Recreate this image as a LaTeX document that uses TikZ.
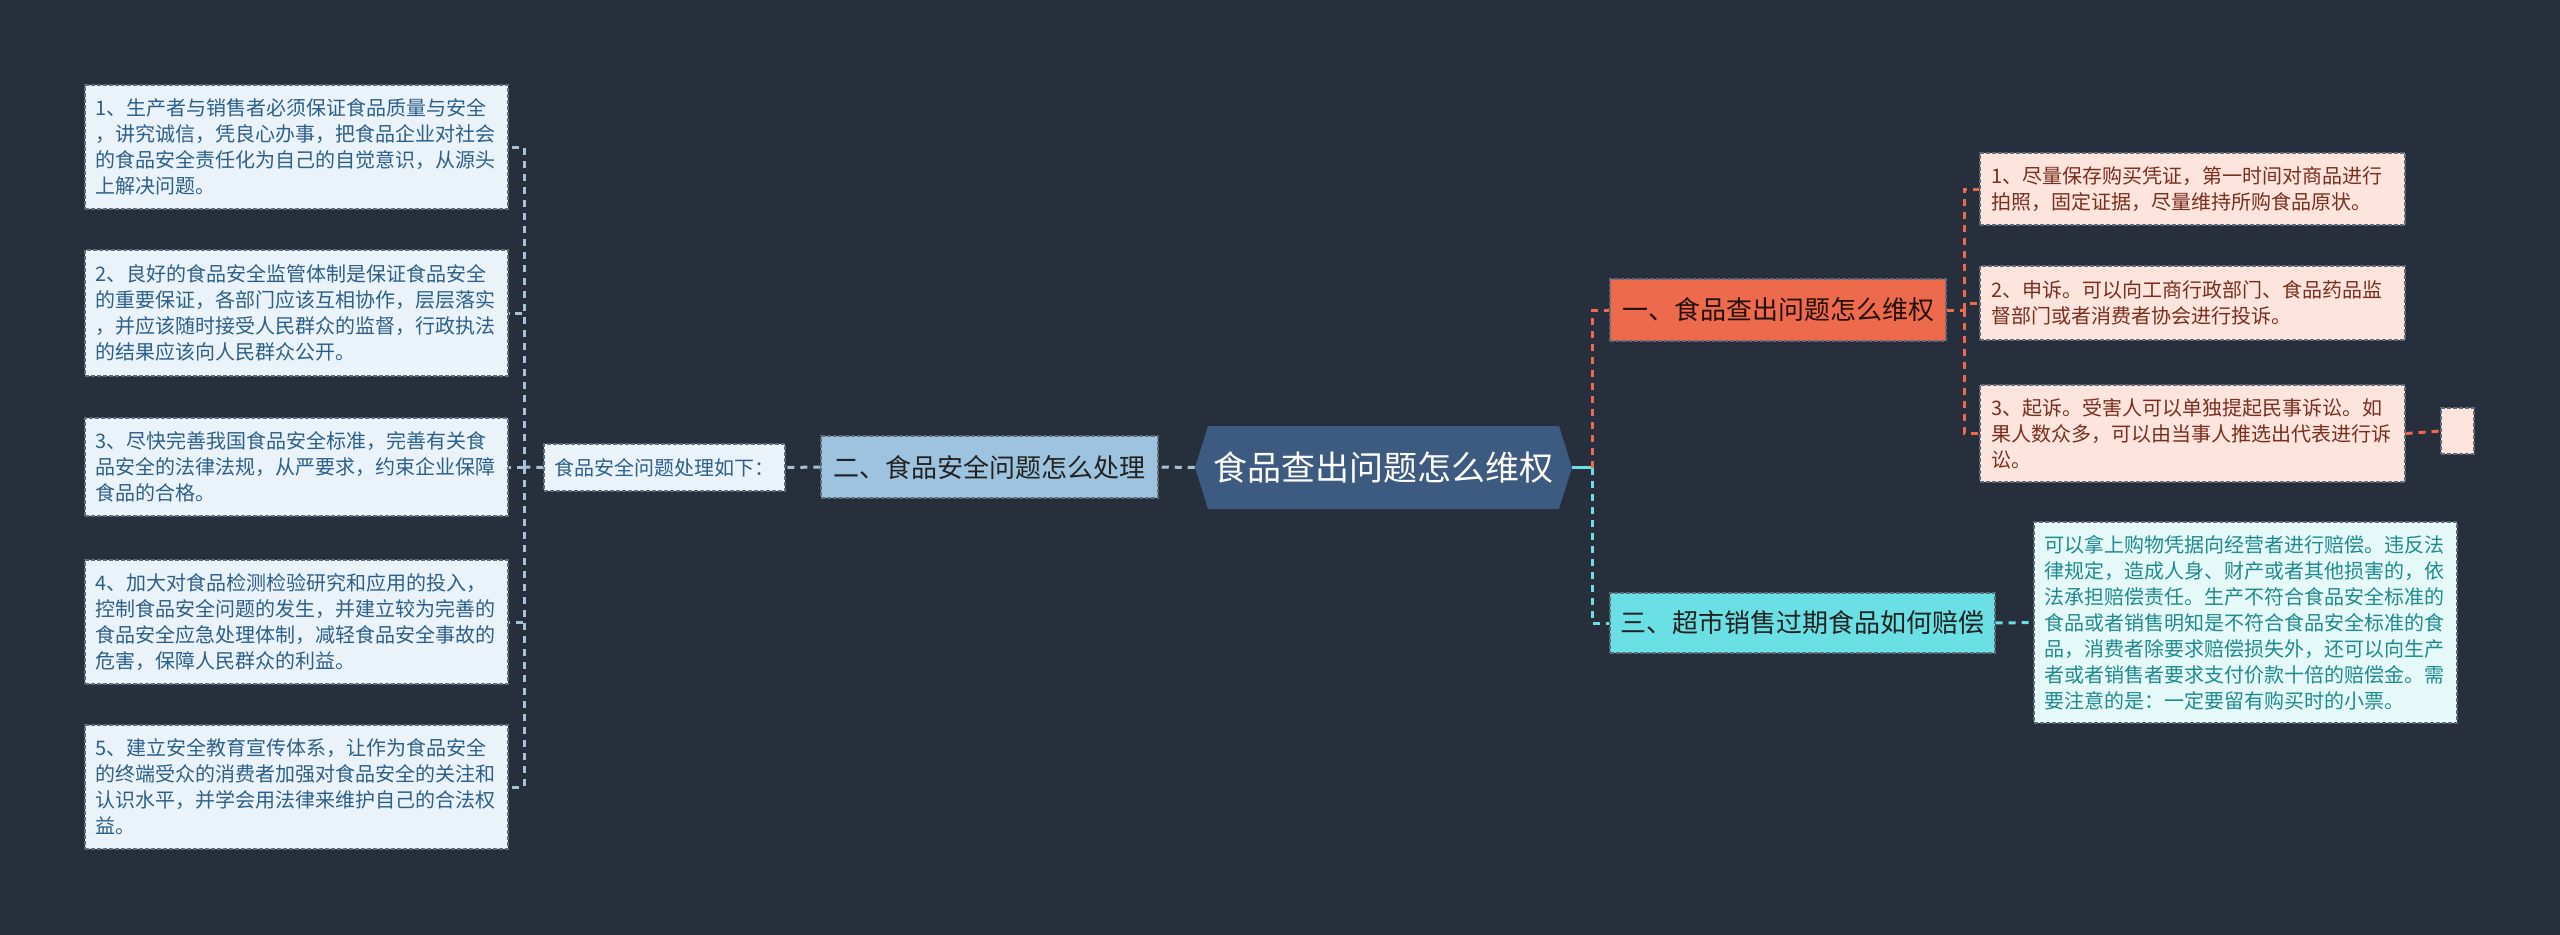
\documentclass[tikz,border=0pt]{standalone}
\usepackage{fontspec}
\setmainfont{Noto Sans CJK SC}
\usetikzlibrary{calc}
\definecolor{bg}{HTML}{272F3D}
\definecolor{leftfill}{HTML}{EAF3F9}
\definecolor{lefttext}{HTML}{2D5F8B}
\definecolor{bordercol}{HTML}{5E6B7A}
\definecolor{secfill}{HTML}{9DC3DF}
\definecolor{rootfill}{HTML}{3D5A80}
\definecolor{lline}{HTML}{A5C2D8}
\definecolor{orange}{HTML}{EE6A4C}
\definecolor{childfill}{HTML}{FDE4DD}
\definecolor{childtext}{HTML}{7A2E1D}
\definecolor{cyanc}{HTML}{6ADFE4}
\definecolor{tfill}{HTML}{E6F9F9}
\definecolor{ttext}{HTML}{1E8A8F}
\definecolor{darktext}{HTML}{222222}
\begin{document}
\begin{tikzpicture}[x=0.75pt,y=-0.75pt,
  box/.style={rectangle, draw=bordercol, dash pattern=on 3pt off 1.5pt, line width=0.9pt, inner ysep=0pt},
  para/.style={box, align=left, text width=301.5pt, font=\fontsize{15}{19.5}\selectfont},
  leftbox/.style={para, fill=leftfill, text=lefttext, inner xsep=7.875pt},
  childbox/.style={para, fill=childfill, text=childtext, inner xsep=8.625pt},
  tbox/.style={para, fill=tfill, text=ttext, inner xsep=7.875pt},
  secbox/.style={box, inner xsep=0pt, text=darktext, font=\fontsize{19.5}{23}\selectfont},
  conn/.style={line width=2.25pt, dash pattern=on 5.25pt off 4.5pt},
  lconn/.style={conn, draw=lline},
  oconn/.style={conn, draw=orange},
  cconn/.style={conn, draw=cyanc}]
\fill[bg] (0,0) rectangle (2560,935);
\useasboundingbox (0,0) rectangle (2560,935);

% left column
\node[leftbox, minimum height=93pt] (L1) at (296.5,147) {1、生产者与销售者必须保证食品质量与安全\\，讲究诚信，凭良心办事，把食品企业对社会\\的食品安全责任化为自己的自觉意识，从源头\\上解决问题。};
\node[leftbox, minimum height=94.5pt] (L2) at (296.5,313) {2、良好的食品安全监管体制是保证食品安全\\的重要保证，各部门应该互相协作，层层落实\\，并应该随时接受人民群众的监督，行政执法\\的结果应该向人民群众公开。};
\node[leftbox, minimum height=73.5pt] (L3) at (296.5,467) {3、尽快完善我国食品安全标准，完善有关食\\品安全的法律法规，从严要求，约束企业保障\\食品的合格。};
\node[leftbox, minimum height=93pt] (L4) at (296.5,622) {4、加大对食品检测检验研究和应用的投入，\\控制食品安全问题的发生，并建立较为完善的\\食品安全应急处理体制，减轻食品安全事故的\\危害，保障人民群众的利益。};
\node[leftbox, minimum height=93pt] (L5) at (296.5,787) {5、建立安全教育宣传体系，让作为食品安全\\的终端受众的消费者加强对食品安全的关注和\\认识水平，并学会用法律来维护自己的合法权\\益。};

\node[box, fill=leftfill, text=lefttext, inner xsep=0pt, minimum width=180.75pt, minimum height=35.25pt, font=\fontsize{15}{18}\selectfont] (howto) at (664.5,467.5) {食品安全问题处理如下：};

\node[secbox, fill=secfill, minimum width=252.75pt, minimum height=46.5pt] (sec2) at (989.5,467) {二、食品安全问题怎么处理};

% root
\node[rectangle, inner sep=0pt, minimum width=282.75pt, minimum height=62.25pt, text=white, font=\fontsize{25.5}{30}\selectfont,
  path picture={\fill[rootfill] ([xshift=9.75pt]path picture bounding box.north west) -- ([xshift=-9.75pt]path picture bounding box.north east) -- (path picture bounding box.east) -- ([xshift=-9.75pt]path picture bounding box.south east) -- ([xshift=9.75pt]path picture bounding box.south west) -- (path picture bounding box.west) -- cycle;}] (root) at (1383.5,467.5) {食品查出问题怎么维权};

% right side
\node[secbox, fill=orange, text=black!85!orange, minimum width=252pt, minimum height=46.5pt] (s1) at (1778,310) {一、食品查出问题怎么维权};
\node[secbox, fill=cyanc, minimum width=288.75pt, minimum height=45pt] (s3) at (1802.5,623) {三、超市销售过期食品如何赔偿};

\node[childbox, minimum height=54pt] (c1) at (2192.5,189) {1、尽量保存购买凭证，第一时间对商品进行\\拍照，固定证据，尽量维持所购食品原状。};
\node[childbox, minimum height=55.5pt] (c2) at (2192.5,303) {2、申诉。可以向工商行政部门、食品药品监\\督部门或者消费者协会进行投诉。};
\node[childbox, minimum height=72.75pt] (c3) at (2192.5,433.5) {3、起诉。受害人可以单独提起民事诉讼。如\\果人数众多，可以由当事人推选出代表进行诉\\讼。};
\node[box, fill=childfill, inner sep=0pt, minimum width=24.75pt, minimum height=34.5pt] (cx) at (2457.5,431) {};

\node[tbox, minimum height=150.75pt] (t3) at (2245.5,622.5) {可以拿上购物凭据向经营者进行赔偿。违反法\\律规定，造成人身、财产或者其他损害的，依\\法承担赔偿责任。生产不符合食品安全标准的\\食品或者销售明知是不符合食品安全标准的食\\品，消费者除要求赔偿损失外，还可以向生产\\者或者销售者要求支付价款十倍的赔偿金。需\\要注意的是：一定要留有购买时的小票。};

% connectors left
\coordinate (lj) at (524,467);
\draw[lconn] (root.west) -- (sec2.east);
\draw[lconn] (sec2.west) -- (howto.east);
\draw[lconn] (howto.west) -- (lj);
\foreach \n in {L1,L2,L3,L4,L5} \draw[lconn] (lj) |- (\n.east);

% connectors right
\coordinate (rj) at (1592,467.5);
\draw[line width=2.25pt, draw=cyanc] (root.east) -- (rj);
\draw[oconn] (rj) |- (s1.west);
\draw[cconn] (rj) |- (s3.west);
\coordinate (oj) at (1964,310);
\draw[oconn] (s1.east) -- (oj);
\foreach \n in {c1,c2,c3} \draw[oconn] (oj) |- (\n.west);
\draw[oconn] (c3.east) -- (cx.west);
\draw[cconn] (s3.east) -- (t3.west);
\end{tikzpicture}
\end{document}
